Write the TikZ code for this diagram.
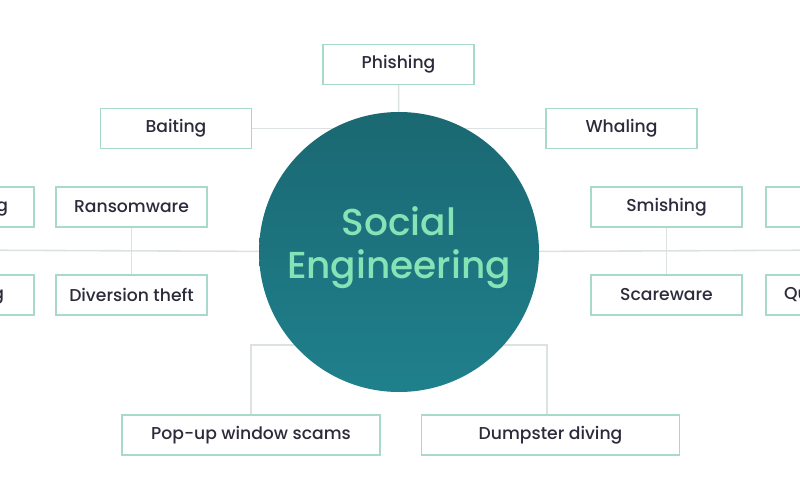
\documentclass[tikz,border=0pt]{standalone}
\usepackage{fontspec}
\setmainfont{Poppins}[UprightFont=* Medium]
\usetikzlibrary{backgrounds}
\definecolor{boxline}{HTML}{A9D9CD}
\definecolor{txt}{HTML}{2B2B3B}
\definecolor{conn}{HTML}{DCE2E2}
\definecolor{tealA}{HTML}{1A6872}
\definecolor{tealB}{HTML}{1F808C}
\definecolor{mint}{HTML}{86E3B6}
\tikzset{
  topic/.style={draw=boxline, line width=1.4pt, fill=white, minimum width=151pt, minimum height=40pt,
    inner sep=0pt, text=txt, font=\fontsize{17.2}{19}\selectfont},
  widetopic/.style={topic, minimum width=258pt},
  conline/.style={draw=conn, line width=1.6pt},
  hub/.style={circle, minimum size=280pt, inner sep=0pt, top color=tealA, bottom color=tealB, draw=none},
  hubtext/.style={text=mint, align=center, font=\fontsize{37.5}{43}\selectfont}
}
\begin{document}
\begin{tikzpicture}[x=1pt,y=-1pt]
\useasboundingbox (0,0) rectangle (800,500);
\clip (0,0) rectangle (800,500);
\node[hub] (se) at (399,252) {};
\node[hubtext] (setext) at (399,248) {Social\\Engineering};
\node[topic] (phish) at (398.5,64.5) {Phishing};
\node[topic] (bait) at (176,128.5) {Baiting};
\node[topic] (whal) at (621.5,128.5) {Whaling};
\node[topic] (ransom) at (131.5,207) {Ransomware};
\node[topic] (divers) at (131.5,295) {Diversion theft};
\node[topic, text width=99pt, align=right] (pretx) at (-41.5,207) {Pretexting};
\node[topic, text width=91pt, align=right] (tailg) at (-41.5,295) {Tailgating};
\node[topic] (smish) at (666.5,207) {Smishing};
\node[topic] (scare) at (666.5,295) {Scareware};
\node[topic] (vish) at (841.5,207) {Vishing};
\node[topic, text width=115pt, align=left] (quid) at (841.5,295) {\makebox[0pt][l]{Quid pro quo}};
\node[widetopic] (popup) at (251,435) {Pop-up window scams};
\node[widetopic] (dump) at (550.5,435) {Dumpster diving};
\coordinate (leftend) at (-60,250);
\coordinate (rightend) at (860,250);
\coordinate (pl) at (251,345);
\coordinate (pr) at (547,345);
\begin{pgfonlayer}{background}
\draw[conline] (phish) -- (se);
\draw[conline] (bait) -- (bait -| se);
\draw[conline] (whal) -- (whal -| se);
\draw[conline] (leftend) -- (se);
\draw[conline] (rightend) -- (se);
\draw[conline] (ransom) -- (divers);
\draw[conline] (smish) -- (scare);
\draw[conline] (pretx) -- (tailg);
\draw[conline] (vish) -- (quid);
\draw[conline] (popup.north) -- (pl) -- (pl -| se);
\draw[conline] (dump.north -| pr) -- (pr) -- (pr -| se);
\end{pgfonlayer}
\end{tikzpicture}
\end{document}
